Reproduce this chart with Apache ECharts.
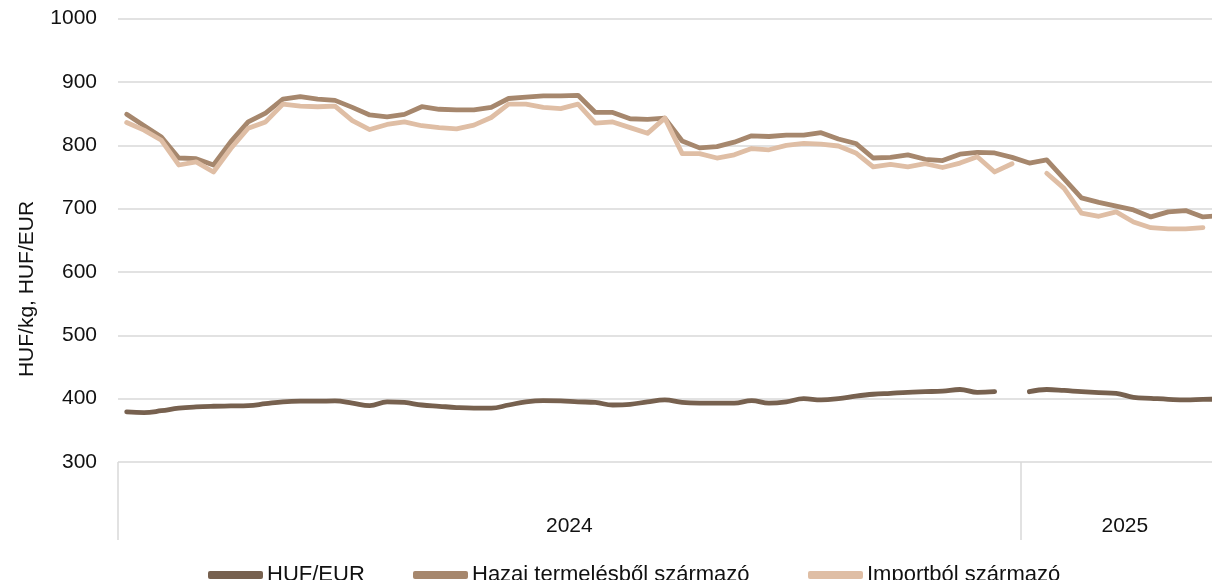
<!DOCTYPE html>
<html>
<head>
<meta charset="utf-8">
<script src="https://cdn.jsdelivr.net/npm/echarts@6/dist/echarts.min.js"></script>
<style>
html,body{margin:0;padding:0;background:#fff;overflow:hidden;}
#main{width:1229px;height:580px;}
</style>
</head>
<body>
<div id="main"></div>
<script>
// évek és hetek
var years = ['2024', '2025'];
var weeksPerYear = [52, 12];

var categories = [];
for (var y = 0; y < years.length; y++) {
	for (var w = 1; w <= weeksPerYear[y]; w++) {
		categories.push(years[y] + '-' + (w < 10 ? '0' + w : w));
	}
}

// HUF/EUR árfolyam
var hufEur = [379, 378, 381, 385, 387, 388, 388.5, 389, 392, 395,
	396, 396, 396.5, 393, 389, 395, 394, 390, 388, 386,
	385, 385, 390, 395, 397, 396.5, 395, 394, 390, 391,
	395, 398, 394, 393, 393, 393, 397, 393, 395, 400,
	398, 400, 404, 407, 408.5, 410, 411, 412, 414.5, 410,
	411, null, 411, 414.5, 413, 411, 409.5, 408.5, 402, 400.5,
	399, 398, 399, 399.5];

// Hazai termelésből származó (HUF/kg)
var hazai = [849, 831, 813, 780, 779, 769, 806, 837, 851, 873,
	877, 873, 871, 860, 848, 845, 849, 861, 857, 856,
	856, 860, 874, 876, 878, 878, 879, 852, 852, 842,
	841, 843, 807, 796, 798, 805, 815, 814, 816, 816,
	820, 810, 803, 780, 781, 785, 778, 776, 786, 789,
	788, 781, 772, 777, 747, 717, 710, 704, 698, 687,
	695, 697, 687, 689];

// Importból származó (HUF/kg)
var importbol = [836, 824, 808, 769, 774, 758, 795, 827, 837, 865,
	862, 861, 862, 839, 825, 833, 837, 831, 828, 826,
	832, 844, 865, 865, 860, 858, 865, 835, 837, 828,
	819, 843, 787, 787, 780, 785, 795, 793, 800, 803,
	802, 799, 788, 766, 770, 766, 771, 765, 772, 782,
	758, 771, null, 756, 732, 693, 688, 695, 679, 670,
	668, 668, 670, null];

var seriesNames = ['HUF/EUR', 'Hazai termelésből származó', 'Importból származó'];
var colors = ['#77614f', '#a6876d', '#dfbea5'];

// évhatárok és évcímkék helye
var yearBounds = [0];
var yearMids = [];
var acc = 0;
for (var i = 0; i < weeksPerYear.length; i++) {
	yearMids.push(acc + weeksPerYear[i] / 2);
	acc += weeksPerYear[i];
	yearBounds.push(acc);
}

var font = '"Liberation Sans", Arial, sans-serif';
var myChart = echarts.init(document.getElementById('main'));

function legendFor(name, left) {
	return {
		data: [name],
		left: left,
		top: 559,
		icon: 'roundRect',
		itemWidth: 55,
		itemHeight: 8,
		itemGap: 0,
		selectedMode: false,
		textStyle: { fontFamily: font, fontSize: 22, color: '#111', padding: [0, 0, 0, -1] }
	};
}

function lineSeries(idx, data, smooth) {
	return {
		name: seriesNames[idx],
		type: 'line',
		data: data,
		xAxisIndex: 0,
		symbol: 'none',
		smooth: smooth,
		connectNulls: false,
		color: colors[idx],
		lineStyle: { width: 4.8, color: colors[idx], cap: 'round', join: 'round' }
	};
}

var option = {
	animation: false,
	backgroundColor: '#fff',
	grid: { left: 118, right: 0, top: 18.7, bottom: 118 },
	legend: [
		legendFor(seriesNames[0], 203),
		legendFor(seriesNames[1], 408),
		legendFor(seriesNames[2], 803)
	],
	graphic: [{
		type: 'text',
		x: 27,
		y: 289,
		rotation: Math.PI / 2,
		style: {
			text: 'HUF/kg, HUF/EUR',
			font: '21px ' + font,
			fill: '#111',
			align: 'center',
			verticalAlign: 'middle'
		}
	}],
	xAxis: [
		{
			type: 'category',
			position: 'bottom',
			data: categories,
			boundaryGap: true,
			show: false
		},
		{
			type: 'value',
			position: 'bottom',
			min: 0,
			max: yearBounds[yearBounds.length - 1],
			axisLine: { show: false },
			splitLine: { show: false },
			axisTick: {
				show: true,
				customValues: yearBounds,
				length: 78,
				lineStyle: { color: '#d9d9d9', width: 1.5 }
			},
			axisLabel: {
				show: true,
				customValues: yearMids,
				margin: 54,
				fontFamily: font,
				fontSize: 21,
				color: '#111',
				formatter: function (v) {
					var k = yearMids.indexOf(v);
					return k >= 0 ? years[k] : '';
				}
			}
		}
	],
	yAxis: {
		type: 'value',
		min: 300,
		max: 1000,
		interval: 100,
		axisLine: { show: false },
		axisTick: { show: false },
		axisLabel: {
			fontFamily: font, fontSize: 21, color: '#111', margin: 21,
			formatter: function (v) { return String(v); }
		},
		splitLine: { lineStyle: { color: '#d9d9d9', width: 1.5 } }
	},
	series: [
		lineSeries(0, hufEur, 0.4),
		lineSeries(1, hazai, false),
		lineSeries(2, importbol, false)
	]
};

myChart.setOption(option);
</script>
</body>
</html>
